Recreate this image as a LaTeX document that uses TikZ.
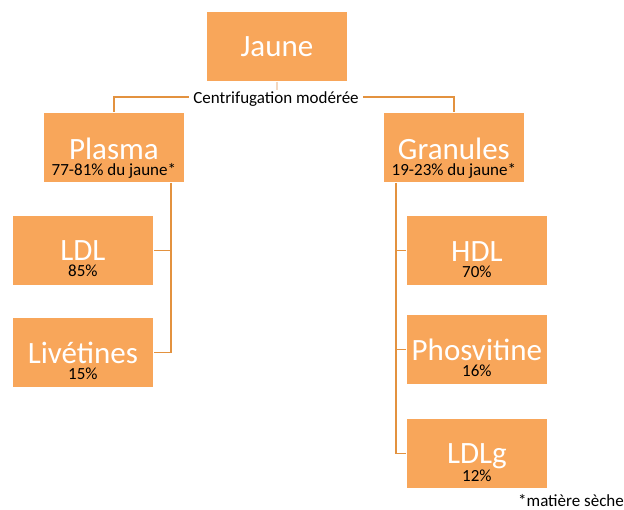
\documentclass[tikz,border=0pt]{standalone}
\usepackage{fontspec}
\setmainfont{Carlito}
\definecolor{boxfill}{HTML}{F8A65A}
\definecolor{linec}{HTML}{E3923F}
\definecolor{stubc}{HTML}{F3D7BE}
\newcommand{\bigf}{\fontsize{31}{31}\selectfont}
\begin{document}
\begin{tikzpicture}[x=1pt,y=-1pt,
  box/.style={rectangle,fill=boxfill,draw=white,line width=0.8pt,minimum width=141pt,minimum height=70pt,inner sep=0pt,anchor=north west},
  big/.style={anchor=base,inner sep=0pt,text=white,font=\bigf},
  lab/.style={anchor=base,inner sep=0pt,align=center,text=black,font=\fontsize{17}{16}\selectfont},
  small/.style={anchor=base,inner sep=0pt,text=black,font=\fontsize{17}{17}\selectfont},
  conn/.style={draw=linec,line width=1.5pt}]
\useasboundingbox (0,0) rectangle (624,510);
% boxes
\node[box] (jaune) at (206,11) {};
\node[box] (plasma) at (43,112) {};
\node[box] (granules) at (383,112) {};
\node[box] (ldl) at (12,215) {};
\node[box] (liv) at (12,317) {};
\node[box] (hdl) at (406,215) {};
\node[box] (phos) at (406,314) {};
\node[box] (ldlg) at (406,418) {};
% texts
\node[big] (tj) at ([yshift=-46pt]jaune.north) {Jaune};
\node[lab] (tp) at ([yshift=-64pt]plasma.north) {{\bigf\color{white}Plasma}\\77-81\% du jaune*};
\node[lab] (tg) at ([yshift=-64pt]granules.north) {{\bigf\color{white}Granules}\\19-23\% du jaune*};
\node[lab] (tl) at ([yshift=-62pt]ldl.north) {{\bigf\color{white}LDL}\\85\%};
\node[lab] (tv) at ([yshift=-63pt]liv.north) {{\bigf\color{white}Livétines}\\15\%};
\node[lab] (th) at ([yshift=-63pt]hdl.north) {{\bigf\color{white}HDL}\\70\%};
\node[lab] (tph) at ([yshift=-63pt]phos.north) {{\bigf\color{white}Phosvitine}\\16\%};
\node[lab] (tlg) at ([yshift=-63pt]ldlg.north) {{\bigf\color{white}LDLg}\\12\%};
% connectors
\coordinate (pv) at (171,182);
\coordinate (gv) at (396,182);
\draw[draw=stubc,line width=1.5pt] (jaune.south) -- ++(0,16);
\draw[conn] (plasma.north) -- ++(0,-15) -| (granules.north);
\node[small,fill=white,inner xsep=4pt,inner ysep=2pt] (centri) at (276,104) {Centrifugation modérée};
\draw[conn] (plasma.south -| pv) |- (liv.east);
\draw[conn] (ldl.east) -- (ldl.east -| pv);
\draw[conn] (granules.south -| gv) |- (ldlg.west);
\draw[conn] (hdl.west) -- (hdl.west -| gv);
\draw[conn] (phos.west) -- (phos.west -| gv);
\node[small,anchor=base west] (note) at (518,506) {*matière sèche};
\end{tikzpicture}
\end{document}
